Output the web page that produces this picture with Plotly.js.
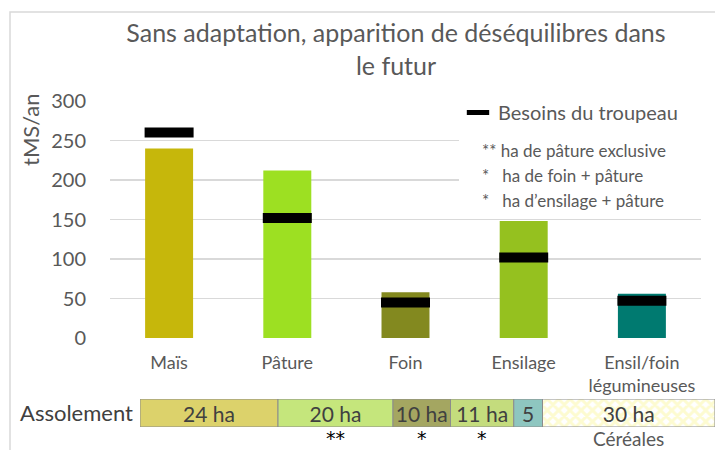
<!DOCTYPE html>
<html><head><meta charset="utf-8">
<script src="https://cdn.plot.ly/plotly-3.0.1.min.js"></script>
<style>html,body{margin:0;padding:0;background:#fff}</style>
</head><body><div id="chart" style="width:715px;height:450px"></div>
<script>
// ---- data ----
const categories = ['Maïs', 'Pâture', 'Foin', 'Ensilage', 'Ensil/foin<br>légumineuses'];
const production = [240, 212, 58, 148, 56];
const besoins = [260, 152, 45, 102, 47];
const barColors = ['#c6b70b', '#9de022', '#83891f', '#95c11f', '#007a70'];
const yTicks = [0, 50, 100, 150, 200, 250, 300];
const assolementHa = [24, 20, 10, 11, 5, 30];
const assolementLabels = ['24 ha', '20 ha', '10 ha', '11 ha', '5', '30 ha'];
const assolementColors = ['#dcd26b', '#c5e67c', '#a4a661', '#c4dc7d', '#8ec6c0', '#fdfbd0'];
const assolementPatterned = [false, false, false, false, false, true];
const assolementMarks = ['', '**', '*', '*', '', 'Céréales'];
const titleText = 'Sans adaptation, apparition de déséquilibres dans<br>le futur';
const yTitle = 'tMS/an';
const besoinsName = 'Besoins du troupeau';
const legendNotes = ['** ha de pâture exclusive', '*\u00a0\u00a0\u00a0ha de foin + pâture', '*\u00a0\u00a0\u00a0ha d\u2019ensilage + pâture'];

// ---- build ----
const FONT = 'Lato, "Open Sans", sans-serif';
const GRAY = '#595959';
const W = 715, H = 450, ML = 110, MT = 101, MB = 22, MR = 0;
const PW = W - ML - MR, PH = H - MT - MB;
const px = x => (x - ML) / PW;           // page px -> paper x
const py = y => (H - MB - y) / PH;       // page px -> paper y

const bases = [];
assolementHa.reduce((acc, v) => { bases.push(acc); return acc + v; }, 0);

function bandTrace(patterned) {
  const idx = assolementHa.map((_, i) => i).filter(i => assolementPatterned[i] === patterned);
  const marker = {
    color: idx.map(i => assolementColors[i]),
    line: {color: '#8c8c8c', width: 1}
  };
  if (patterned) {
    marker.pattern = {shape: 'x', fillmode: 'replace', bgcolor: '#ffffff', fgcolor: '#ffff00',
                      fgopacity: 1, size: 8, solidity: 0.6};
  }
  return {
    type: 'bar', orientation: 'h', xaxis: 'x2', yaxis: 'y2',
    x: idx.map(i => assolementHa[i]), base: idx.map(i => bases[i]), y: idx.map(() => 0), width: 1,
    marker: marker,
    text: idx.map(i => assolementLabels[i]), textposition: 'inside', insidetextanchor: 'middle',
    textangle: 0, constraintext: 'none',
    insidetextfont: {family: FONT, size: 21, color: '#404040'},
    showlegend: false, hoverinfo: 'skip'
  };
}

const traces = [
  {
    type: 'bar', x: categories, y: production, width: 0.406,
    marker: {color: barColors}, showlegend: false, hoverinfo: 'skip'
  },
  {
    type: 'scatter', mode: 'markers', x: categories, y: besoins, name: besoinsName,
    marker: {symbol: 'line-ew', size: 35, color: '#000', line: {color: '#000', width: 10}},
    showlegend: true, hoverinfo: 'skip'
  },
  bandTrace(false),
  bandTrace(true)
];

const annotations = [
  {text: yTitle, xref: 'paper', yref: 'paper', x: px(30), y: py(130), textangle: -90,
   xanchor: 'center', yanchor: 'middle', showarrow: false, font: {family: FONT, size: 22, color: GRAY}},
  {text: 'Assolement', xref: 'paper', yref: 'paper', x: px(135), y: py(412),
   xanchor: 'right', yanchor: 'middle', showarrow: false, font: {family: FONT, size: 22, color: '#404040'}}
];
legendNotes.forEach((t, i) => {
  annotations.push({text: t, xref: 'paper', yref: 'paper', x: px(480), y: py(150 + 25 * i),
    xanchor: 'left', yanchor: 'middle', showarrow: false, font: {family: FONT, size: 17, color: GRAY}});
});
assolementMarks.forEach((m, i) => {
  if (!m) return;
  const isWord = m.length > 2;
  annotations.push({text: m, xref: 'x2', yref: 'paper', x: bases[i] + assolementHa[i] / 2,
    y: py(438),
    xanchor: 'center', yanchor: 'middle', showarrow: false,
    font: isWord ? {family: FONT, size: 19, color: GRAY} : {family: '"DejaVu Sans", sans-serif', size: 19, color: '#000'}});
});

const layout = {
  width: W, height: H,
  margin: {l: ML, r: MR, t: MT, b: MB, pad: 0},
  paper_bgcolor: '#fff', plot_bgcolor: 'rgba(0,0,0,0)',
  font: {family: FONT, color: GRAY},
  title: {text: titleText, font: {family: FONT, size: 25, color: GRAY},
          x: 396 / W, xref: 'container', xanchor: 'center',
          y: 1 - 42 / H, yref: 'container', yanchor: 'top'},
  barmode: 'overlay',
  xaxis: {domain: [0, 591 / PW], type: 'category', showgrid: false, showline: false, zeroline: false,
          ticks: '', tickfont: {family: FONT, size: 18, color: GRAY}, ticklabelstandoff: 12, fixedrange: true},
  yaxis: {domain: [py(338), 1], range: [0, 300], tickvals: yTicks, showgrid: true, gridcolor: '#d9d9d9',
          gridwidth: 1.5, zeroline: false, showline: false, ticks: '',
          tickfont: {family: FONT, size: 20, color: GRAY}, ticklabelstandoff: 23, fixedrange: true},
  xaxis2: {domain: [px(140), 1], range: [0, 100], anchor: 'y2', visible: false, fixedrange: true},
  yaxis2: {domain: [py(427), py(399)], range: [-0.5, 0.5], anchor: 'x2', visible: false, fixedrange: true},
  showlegend: true,
  legend: {x: px(458), xanchor: 'left', y: py(93), yanchor: 'top', bgcolor: 'rgba(0,0,0,0)',
           font: {family: FONT, size: 20, color: GRAY}, itemsizing: 'trace'},
  shapes: [
    {type: 'rect', xref: 'paper', yref: 'paper', x0: px(10), x1: px(717), y0: py(452), y1: py(12),
     line: {color: '#d9d9d9', width: 1.5}, fillcolor: 'rgba(0,0,0,0)', layer: 'below'},
    {type: 'rect', xref: 'paper', yref: 'paper', x0: px(459), x1: px(706), y0: py(204), y1: py(92),
     line: {width: 0}, fillcolor: '#ffffff', layer: 'above'}
  ],
  annotations: annotations
};

Plotly.newPlot('chart', traces, layout, {displayModeBar: false, staticPlot: true});
</script>
</body></html>
